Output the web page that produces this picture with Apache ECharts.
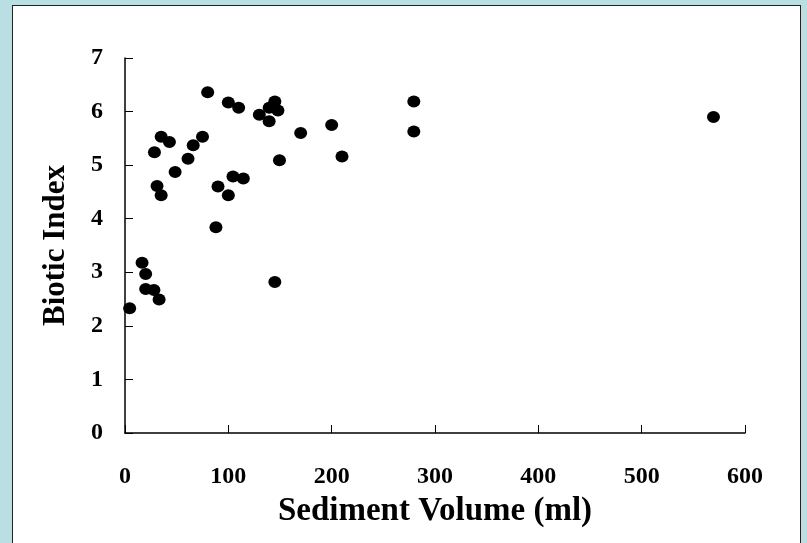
<!DOCTYPE html>
<html>
<head>
<meta charset="utf-8">
<title>Biotic Index vs Sediment Volume</title>
<script src="https://cdn.jsdelivr.net/npm/echarts@6/dist/echarts.min.js"></script>
<style>
    html, body { margin: 0; padding: 0; background: #b9dfe3; }
    #panel { position: absolute; left: 12px; top: 5px; width: 789px; height: 560px;
             background: #ffffff; border: 1.5px solid #222222; box-sizing: border-box; }
    #chart { position: absolute; left: 0; top: 0; width: 807px; height: 543px; }
</style>
</head>
<body>
<div id="panel"></div>
<div id="chart"></div>
<script>
// 沉积物体积 (ml)
var sedimentVolume = [4.5, 16.5, 20, 20, 28, 33, 28.5, 31, 35, 35, 43, 48.5, 61, 66, 75, 80,
    88, 90, 100, 100, 104.5, 110, 114.5, 130, 139.5, 139.5, 145, 148, 149.5, 145,
    170, 200, 210, 279.5, 279.5, 569.5];
// 生物指数
var bioticIndex = [2.33, 3.18, 2.97, 2.69, 2.67, 2.49, 5.24, 4.61, 5.53, 4.44, 5.43, 4.87, 5.12, 5.37, 5.53, 6.36,
    3.84, 4.60, 4.44, 6.17, 4.79, 6.07, 4.75, 5.94, 6.07, 5.82, 6.19, 6.02, 5.09, 2.82,
    5.60, 5.75, 5.16, 6.19, 5.63, 5.90];

var xTicks = [0, 100, 200, 300, 400, 500, 600];
var yTicks = [0, 1, 2, 3, 4, 5, 6, 7];

var points = [];
for (var i = 0; i < sedimentVolume.length; i++) {
    points.push([sedimentVolume[i], bioticIndex[i]]);
}

var font = '"Liberation Serif", "Times New Roman", serif';

var myChart = echarts.init(document.getElementById('chart'));
var option = {
    animation: false,
    backgroundColor: 'transparent',
    grid: { left: 125, right: 62, top: 58, bottom: 110 },
    xAxis: {
        type: 'value',
        min: xTicks[0],
        max: xTicks[xTicks.length - 1],
        interval: 100,
        name: 'Sediment Volume (ml)',
        nameLocation: 'middle',
        nameGap: 62,
        nameTextStyle: { fontFamily: font, fontWeight: 'bold', fontSize: 33, color: '#000' },
        axisLine: { lineStyle: { color: '#000', width: 1.5 } },
        axisTick: { inside: true, length: 8, lineStyle: { color: '#000' } },
        axisLabel: { margin: 32, fontFamily: font, fontWeight: 'bold', fontSize: 24, color: '#000' },
        splitLine: { show: false }
    },
    yAxis: {
        type: 'value',
        min: yTicks[0],
        max: yTicks[yTicks.length - 1],
        interval: 1,
        name: 'Biotic Index',
        nameLocation: 'middle',
        nameGap: 54,
        nameTextStyle: { fontFamily: font, fontWeight: 'bold', fontSize: 31, color: '#000' },
        axisLine: { show: true, lineStyle: { color: '#000', width: 1.5 } },
        axisTick: { show: true, inside: true, length: 8, lineStyle: { color: '#000' } },
        axisLabel: { margin: 22, fontFamily: font, fontWeight: 'bold', fontSize: 24, color: '#000' },
        splitLine: { show: false }
    },
    series: [{
        type: 'scatter',
        data: points,
        symbol: 'circle',
        symbolSize: [13, 12],
        itemStyle: { color: '#000', opacity: 1 }
    }]
};
myChart.setOption(option);
</script>
</body>
</html>
